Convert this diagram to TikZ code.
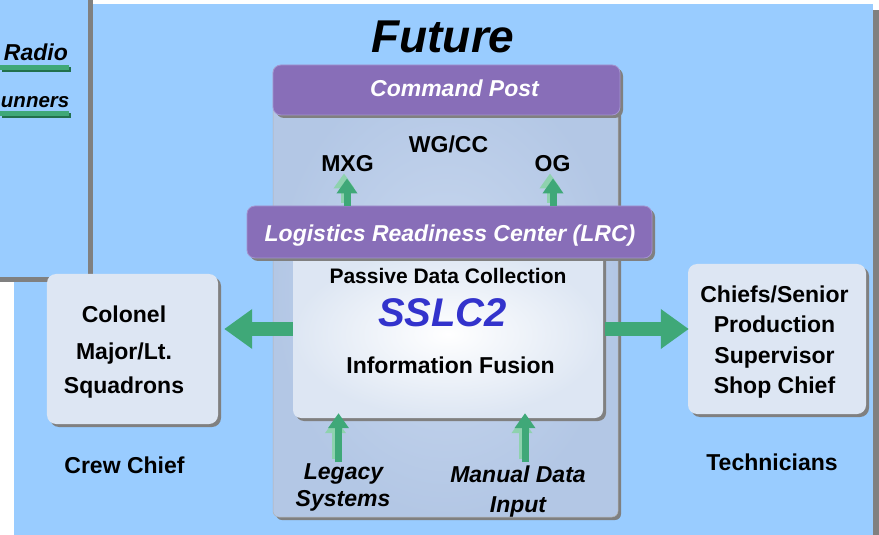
\documentclass[tikz,border=0pt]{standalone}
\usepackage{fontspec}
\setmainfont{Liberation Sans}
\usetikzlibrary{arrows.meta,calc,shadows}
\definecolor{bgblue}{HTML}{99CCFF}
\definecolor{contblue}{HTML}{B3C7E5}
\definecolor{contlight}{HTML}{C9D8EF}
\definecolor{cpurple}{HTML}{886EB8}
\definecolor{cpurpleedge}{HTML}{A393CF}
\definecolor{boxfill}{HTML}{DDE6F3}
\definecolor{arrowgreen}{HTML}{3FA878}
\definecolor{lightgreen}{HTML}{8ED2AE}
\definecolor{darkgreen}{HTML}{22704C}
\definecolor{shadowgray}{HTML}{808080}
\definecolor{sslcblue}{HTML}{3333CC}
\begin{document}
\begin{tikzpicture}[x=1bp,y=-1bp]
\tikzset{
 lbl/.style={inner sep=0pt, anchor=base, font=\fontsize{23bp}{27bp}\selectfont\bfseries},
 ilbl/.style={inner sep=0pt, anchor=base, font=\fontsize{23bp}{27bp}\selectfont\bfseries\itshape},
 greenarrow/.style={draw=arrowgreen, line width=14bp, -{Triangle[width=38bp,length=28bp]}},
 uparrow/.style={draw=arrowgreen, line width=7bp, -{Triangle[width=20bp,length=15bp]}},
 uparrowhl/.style={draw=lightgreen, line width=7bp, -{Triangle[width=20bp,length=15bp]}},
 shd/.style={drop shadow={shadow xshift=3bp, shadow yshift=-3bp, opacity=1, fill=shadowgray}},
 sidebox/.style={shd, fill=boxfill, rounded corners=9bp, minimum width=#1, minimum height=150bp, inner sep=0pt},
 bar/.style={shd, fill=cpurple, draw=cpurpleedge, line width=0.8bp, rounded corners=8bp, inner sep=0pt},
}
\useasboundingbox (0,0) rectangle (879,535);
% background panels
\fill[white] (0,0) rectangle (879,535);
\fill[shadowgray] (873,10) rectangle (879,535);
\fill[bgblue] (14,4) rectangle (873,535);
% left panel (partly visible)
\fill[shadowgray] (0,0) rectangle (93,282);
\fill[bgblue] (0,0) rectangle (88,277);
\fill[darkgreen] (2,67) rectangle (71,72);
\fill[arrowgreen] (0,65.5) rectangle (69,70);
\fill[darkgreen] (2,113) rectangle (71,118);
\fill[arrowgreen] (0,111.5) rectangle (69,116);
\node[ilbl, anchor=base east] (radio) at (68,61) {Radio};
\node[inner sep=0pt, anchor=base east, font=\fontsize{20.5bp}{25bp}\selectfont\bfseries\itshape] (runners) at (69.5,108) {unners};
% title
\node[inner sep=0pt, anchor=base, font=\fontsize{46bp}{52bp}\selectfont\bfseries\itshape] (future) at (443,53) {Future};
% central container
\node[shd, rounded corners=6bp, inner color=contlight, outer color=contblue, draw=shadowgray!60, line width=0.5bp, minimum width=345bp, minimum height=451bp, inner sep=0pt] (cont) at (445.5,291.5) {};
\node[bar, minimum width=347bp, minimum height=50bp] (cp) at (446.5,90) {};
\node[ilbl, text=white] (cpt) at (454.5,97) {Command Post};
\node[lbl] (wgcc) at (448.5,153) {WG/CC};
\node[lbl] (mxg) at (347.5,172) {MXG};
\node[lbl] (og) at (552.5,172) {OG};
% inner white box
\node[shd, rounded corners=8bp, inner color=white, outer color=boxfill, minimum width=310bp, minimum height=168bp, inner sep=0pt] (inner) at (448,334) {};
% LRC bar
\node[bar, minimum width=405bp, minimum height=52bp] (lrc) at (449.5,232) {};
\node[ilbl, text=white] (lrct) at (450,242) {Logistics Readiness Center (LRC)};
% small up arrows to MXG / OG
\coordinate (mxgfoot) at (347,206);
\coordinate (ogfoot) at (553,206);
\draw[uparrowhl, shorten >=4bp] ($(mxgfoot)+(-3,-3)$) -- ($(mxgfoot|-mxg.south)+(-3,-3)$);
\draw[uparrow, shorten >=6bp] (mxgfoot) -- (mxgfoot|-mxg.south);
\draw[uparrowhl, shorten >=4bp] ($(ogfoot)+(-3,-3)$) -- ($(ogfoot|-og.south)+(-3,-3)$);
\draw[uparrow, shorten >=6bp] (ogfoot) -- (ogfoot|-og.south);
% inner texts
\node[inner sep=0pt, anchor=base, font=\fontsize{21bp}{25bp}\selectfont\bfseries] (pdc) at (448,284) {Passive Data Collection};
\node[inner sep=0pt, anchor=base, text=sslcblue, font=\fontsize{40bp}{46bp}\selectfont\bfseries\itshape] (sslc) at (442.5,327) {SSLC2};
\node[lbl] (fusion) at (450.5,373) {Information Fusion};
% bottom inputs
\node[ilbl] (leg1) at (343.5,479) {Legacy};
\node[ilbl] (leg2) at (343,506) {Systems};
\node[ilbl] (man1) at (518,482) {Manual Data};
\node[ilbl] (man2) at (518,512) {Input};
\coordinate (legfoot) at (338.5,462);
\coordinate (manfoot) at (525,462);
\draw[uparrowhl, shorten >=3bp] ($(legfoot)+(-3,-3)$) -- ($(legfoot|-inner.south)+(-3,-3)$);
\draw[uparrow, shorten >=-5bp] (legfoot) -- (legfoot|-inner.south);
\draw[uparrowhl, shorten >=3bp] ($(manfoot)+(-3,-3)$) -- ($(manfoot|-inner.south)+(-3,-3)$);
\draw[uparrow, shorten >=-5bp] (manfoot) -- (manfoot|-inner.south);
% side boxes
\node[sidebox=171bp] (lbox) at (132.5,349) {};
\node[lbl] (col) at (124,323) {Colonel};
\node[lbl] (maj) at (124,359) {Major/Lt.};
\node[lbl] (sq) at (124,393) {Squadrons};
\node[lbl] (crew) at (124.5,473) {Crew Chief};
\node[sidebox=178bp] (rbox) at (777,339) {};
\node[lbl] (ch1) at (774.5,303) {Chiefs/Senior};
\node[lbl] (ch2) at (774.5,333) {Production};
\node[lbl] (ch3) at (774.5,363) {Supervisor};
\node[lbl] (ch4) at (774.5,393) {Shop Chief};
\node[lbl] (tech) at (772,470) {Technicians};
% big arrows
\coordinate (arrowy) at (0,329);
\draw[greenarrow, shorten >=6bp] (inner.west|-arrowy) -- (lbox.east|-arrowy);
\draw[greenarrow, shorten >=-1bp] ($(inner.east|-arrowy)+(2,0)$) -- (rbox.west|-arrowy);
\end{tikzpicture}
\end{document}
